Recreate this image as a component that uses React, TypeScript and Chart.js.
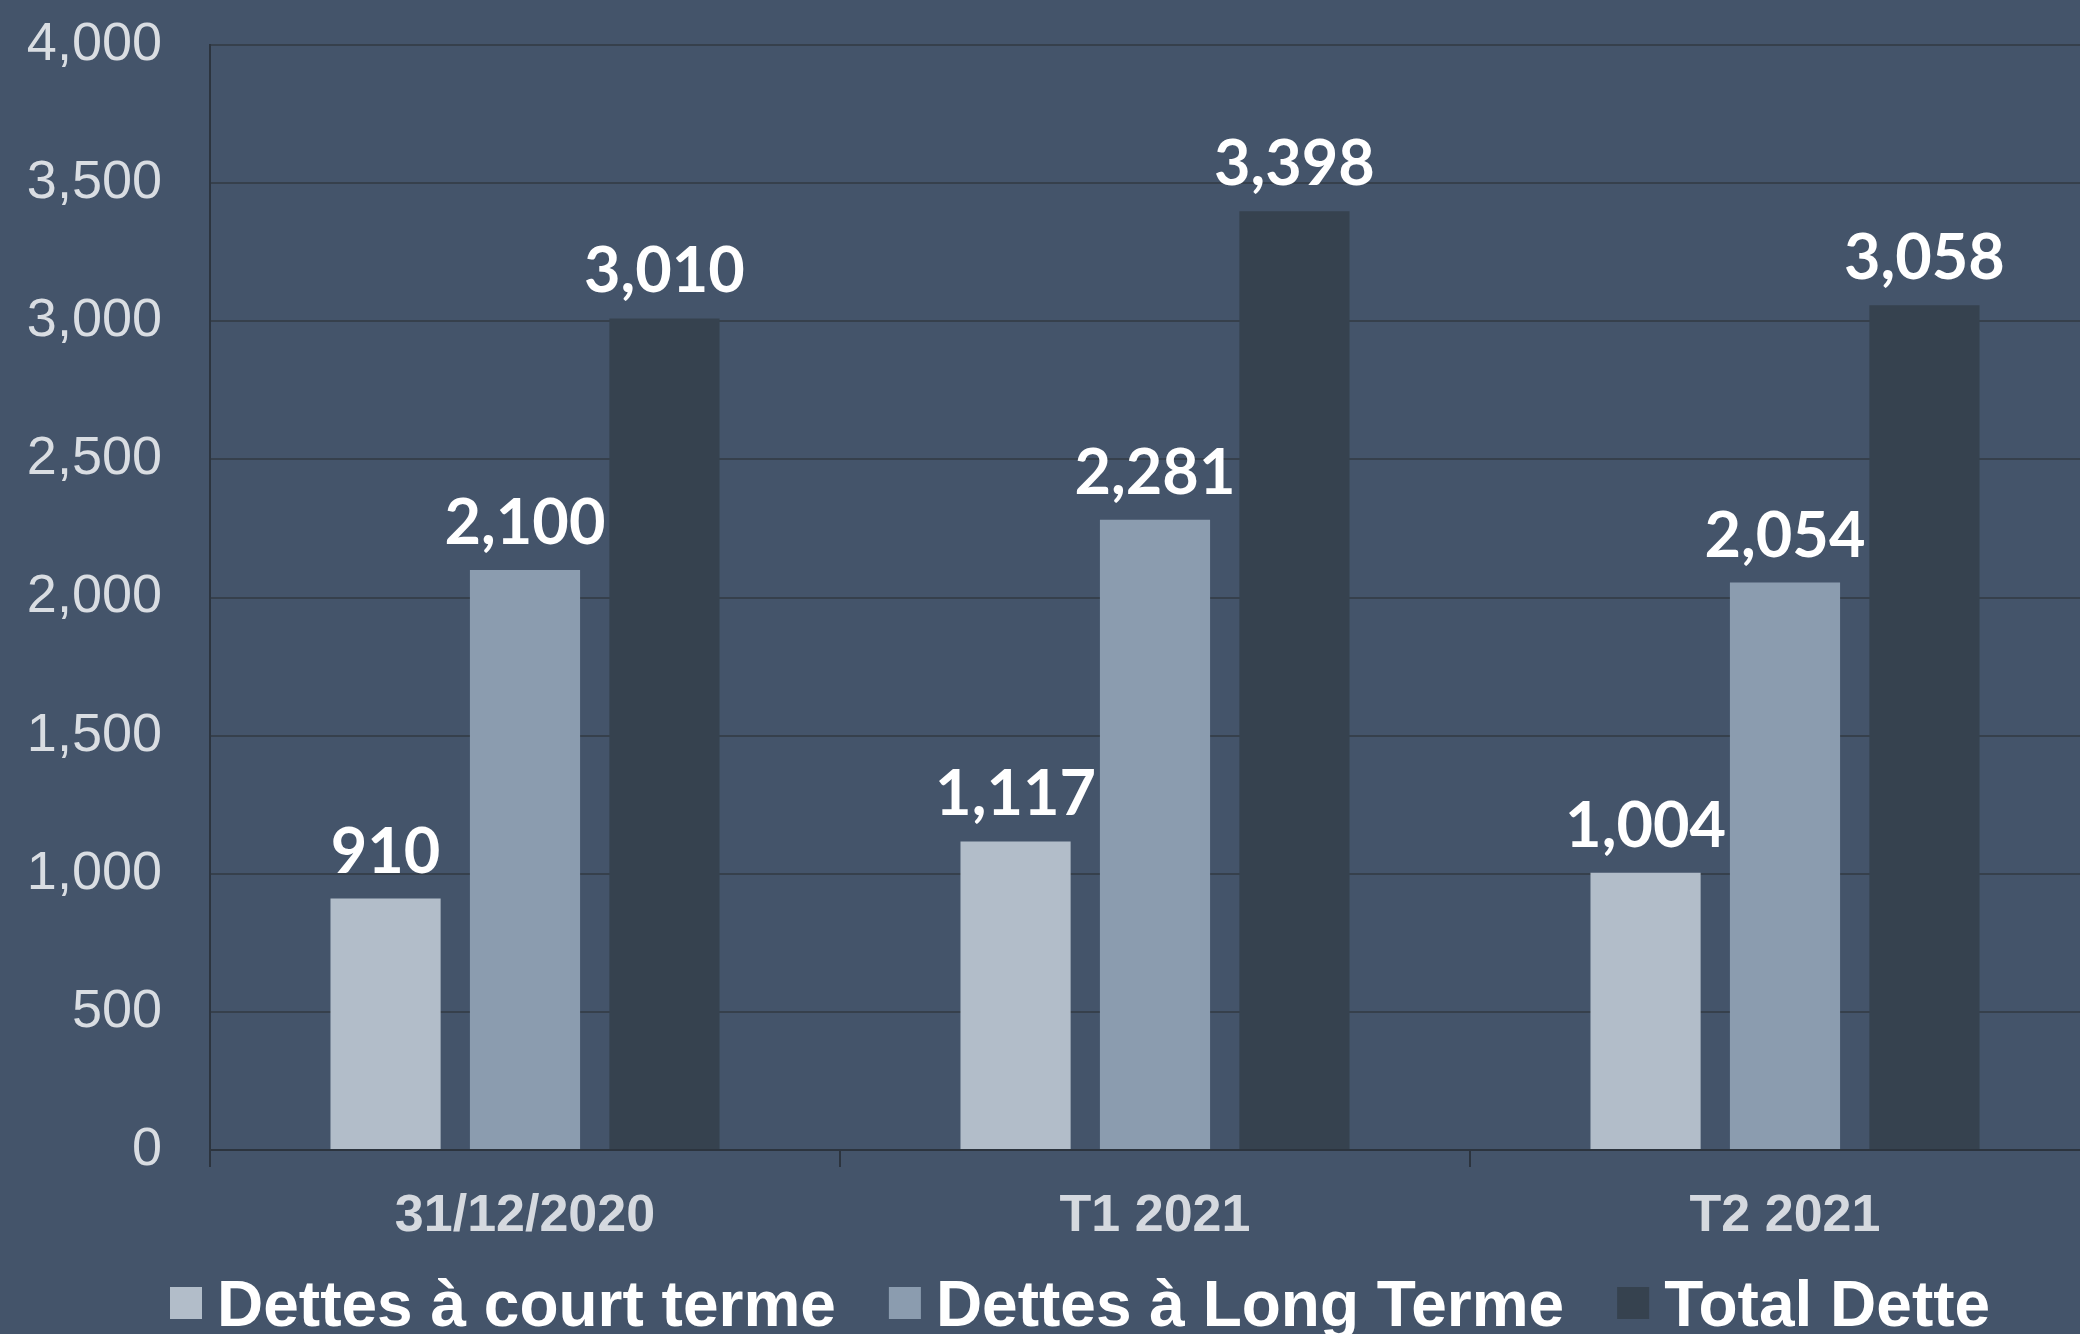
import React, { useEffect, useRef } from "react";
import { Chart, registerables } from "chart.js";

Chart.register(...registerables);

const categories = ["31/12/2020", "T1 2021", "T2 2021"];
const seriesNames = ["Dettes à court terme", "Dettes à Long Terme", "Total Dette"];
const courtTerme = [910, 1117, 1004];
const longTerme = [2100, 2281, 2054];
const totalDette = [3010, 3398, 3058];
const seriesColors = ["#B2BDC9", "#8B9CAF", "#36424F"];
const yMin = 0;
const yMax = 4000;
const yStep = 500;

const BG = "#44546A";

const bgPlugin = {
  id: "bgFill",
  beforeDraw(chart: any) {
    const ctx = chart.ctx;
    ctx.save();
    ctx.fillStyle = BG;
    ctx.fillRect(0, 0, chart.width, chart.height);
    ctx.restore();
  },
};

const labelPlugin = {
  id: "valueLabels",
  afterDatasetsDraw(chart: any) {
    const ctx = chart.ctx;
    ctx.save();
    ctx.font = "bold 63px Lato";
    ctx.fillStyle = "#FFFFFF";
    ctx.textAlign = "center";
    ctx.textBaseline = "alphabetic";
    chart.data.datasets.forEach((ds: any, i: number) => {
      const meta = chart.getDatasetMeta(i);
      meta.data.forEach((bar: any, j: number) => {
        const v = ds.data[j];
        ctx.fillText(Number(v).toLocaleString("en-US"), bar.x, bar.y - 26);
      });
    });
    ctx.restore();
  },
};

const legendPlugin = {
  id: "customLegend",
  afterDraw(chart: any) {
    const ctx = chart.ctx;
    ctx.save();
    ctx.font = "bold 64px 'Liberation Sans'";
    ctx.textBaseline = "alphabetic";
    ctx.textAlign = "left";
    const box = 32;
    const gap = 15;
    const itemGap = 53;
    const cy = 1303;
    let x = 170;
    chart.data.datasets.forEach((ds: any) => {
      ctx.fillStyle = ds.backgroundColor;
      ctx.fillRect(x, cy - box / 2, box, box);
      x += box + gap;
      ctx.fillStyle = "#FFFFFF";
      ctx.fillText(ds.label, x, cy + 23);
      x += ctx.measureText(ds.label).width + itemGap;
    });
    ctx.restore();
  },
};

export default function App() {
  const ref = useRef<HTMLCanvasElement | null>(null);
  useEffect(() => {
    document.body.style.margin = "0";
    document.body.style.overflow = "hidden";
    document.body.style.background = BG;
    const canvas = ref.current;
    if (!canvas) return;
    const data = [courtTerme, longTerme, totalDette];
    const chart = new Chart(canvas, {
      type: "bar",
      data: {
        labels: categories,
        datasets: seriesNames.map((name, i) => ({
          label: name,
          data: data[i],
          backgroundColor: seriesColors[i],
          borderWidth: 0,
          categoryPercentage: 0.664,
          barPercentage: 0.79,
        })),
      },
      options: {
        animation: false,
        responsive: false,
        maintainAspectRatio: false,
        devicePixelRatio: 1,
        layout: { padding: { top: 45, right: 0, bottom: 84, left: 0 } },
        plugins: {
          legend: { display: false },
          tooltip: { enabled: false },
        },
        scales: {
          x: {
            offset: true,
            grid: {
              display: true,
              drawOnChartArea: false,
              drawTicks: true,
              tickLength: 17,
              color: "#2C343E",
              lineWidth: 2,
              offset: true,
            },
            border: { display: true, color: "#2C343E", width: 2 },
            ticks: {
              color: "#D5D9DF",
              font: { family: "'Liberation Sans'", size: 52, weight: "bold" },
              padding: 18,
              maxRotation: 0,
            },
            afterFit(scale: any) {
              scale.height = 100;
            },
          },
          y: {
            min: yMin,
            max: yMax,
            grid: {
              color: "#36404C",
              lineWidth: 2,
              drawTicks: true,
              tickLength: 48,
              tickColor: "rgba(0,0,0,0)",
            },
            border: { display: true, color: "#2C343E", width: 2 },
            ticks: {
              stepSize: yStep,
              color: "#D9DDE2",
              font: { family: "'Liberation Sans'", size: 54 },
              padding: 0,
              callback: (v: any) => Number(v).toLocaleString("en-US"),
            },
            afterFit(scale: any) {
              scale.width = 210;
            },
          },
        },
      },
      plugins: [bgPlugin, labelPlugin, legendPlugin],
    });
    return () => chart.destroy();
  }, []);
  return (
    <canvas
      ref={ref}
      width={2100}
      height={1334}
      style={{ position: "fixed", left: 0, top: 0, width: 2100, height: 1334, display: "block" }}
    />
  );
}
